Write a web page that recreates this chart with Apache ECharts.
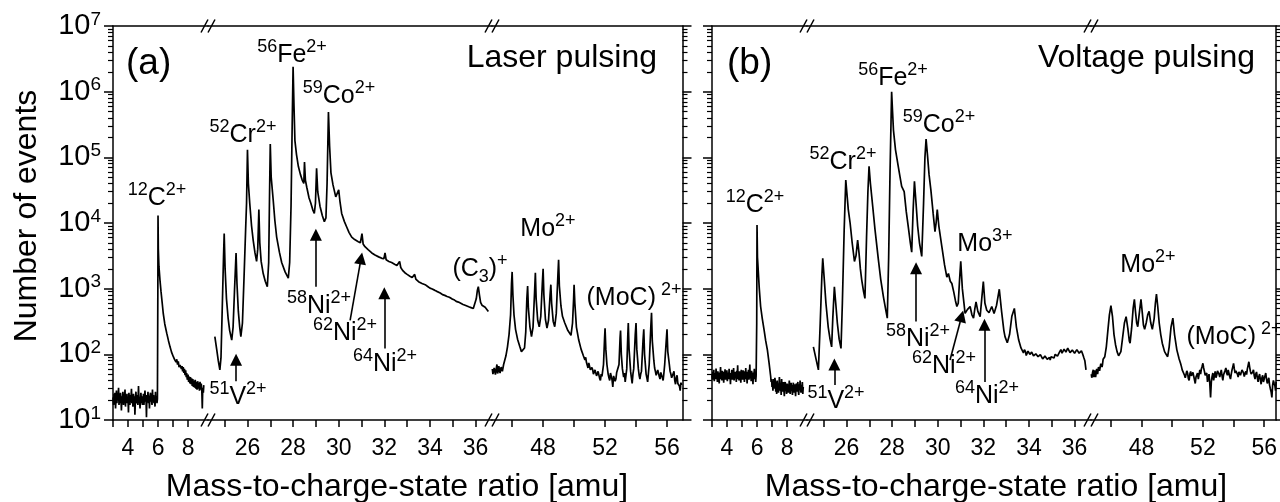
<!DOCTYPE html>
<html>
<head>
<meta charset="utf-8">
<script src="https://cdn.jsdelivr.net/npm/echarts@6/dist/echarts.min.js"></script>
<style>
  html, body { margin: 0; padding: 0; background: #fff; }
  #chart { width: 1280px; height: 502px; }
</style>
</head>
<body>
<div id="chart"></div>
<script>
// ---- data (x = m/z in amu, y = counts) ----
var laserLow = [[3.0,22],[3.04,17],[3.07,25],[3.1,19],[3.13,26],[3.17,15],[3.2,21],[3.23,28],[3.26,18],[3.3,24],[3.33,20],[3.37,31],[3.4,17],[3.43,23],[3.46,18],[3.5,26],[3.53,21],[3.56,14],[3.6,23],[3.63,19],[3.66,27],[3.7,17],[3.73,22],[3.76,20],[3.8,29],[3.83,16],[3.86,23],[3.9,19],[3.93,25],[3.96,18],[4.0,21],[4.03,13],[4.06,26],[4.1,20],[4.13,17],[4.16,24],[4.2,22],[4.23,30],[4.26,18],[4.3,21],[4.33,16],[4.36,25],[4.4,19],[4.43,23],[4.46,12],[4.5,22],[4.53,27],[4.56,18],[4.6,20],[4.63,24],[4.66,17],[4.7,33],[4.73,19],[4.76,22],[4.8,15],[4.83,21],[4.86,26],[4.9,18],[4.93,23],[4.96,17],[5.0,20],[5.03,25],[5.06,17],[5.1,22],[5.13,28],[5.17,19],[5.2,21],[5.23,11],[5.26,24],[5.3,20],[5.33,27],[5.37,18],[5.4,22],[5.43,15],[5.46,23],[5.5,26],[5.53,19],[5.56,21],[5.6,17],[5.63,29],[5.66,20],[5.7,24],[5.73,18],[5.76,22],[5.8,16],[5.83,27],[5.86,19],[5.9,23],[5.93,18],[5.96,21],
  [5.99,1200],[6.0,13000],[6.02,4000],[6.06,2200],[6.13,1350],[6.2,900],[6.28,600],[6.35,415],[6.45,290],[6.58,210],[6.7,160],[6.8,130],[6.9,108],[7.02,92],[7.1,84],[7.15,90],[7.2,76],[7.25,84],[7.3,70],[7.35,78],[7.4,64],[7.47,69],[7.52,74],[7.56,60],[7.6,66],[7.64,55],[7.68,64],[7.72,52],[7.76,60],[7.8,48],[7.84,57],[7.88,45],[7.91,52],[7.95,41],[8.0,49],[8.04,38],[8.08,46],[8.12,36],[8.16,45],[8.2,35],[8.24,43],[8.28,33],[8.32,42],[8.36,32],[8.4,40],[8.44,31],[8.48,41],[8.52,30],[8.56,38],[8.6,29],[8.64,39],[8.68,30],[8.72,37],[8.76,28],[8.8,38],[8.84,29],[8.88,36],[8.92,27],[8.95,15],[8.98,31],[9.02,26],[9.05,34]];

var laserMid = [[24.57,186],[24.65,120],[24.72,80],[24.79,58],[24.84,90],[24.9,600],[24.95,3000],[24.98,6900],[25.02,2000],[25.08,700],[25.15,360],[25.22,230],[25.31,165],[25.37,260],[25.43,900],[25.5,3500],[25.54,1200],[25.6,450],[25.66,260],[25.71,186],[25.78,300],[25.85,1500],[25.92,8000],[25.96,20000],[26.0,130000],[26.04,40000],[26.1,20000],[26.18,9000],[26.25,5500],[26.33,3500],[26.4,2600],[26.45,4000],[26.5,16000],[26.54,5000],[26.6,2600],[26.69,1700],[26.78,1300],[26.87,1070],[26.93,2500],[26.97,30000],[27.0,160000],[27.04,50000],[27.13,22000],[27.2,11000],[27.28,6100],[27.4,3600],[27.5,2500],[27.65,1800],[27.79,1450],[27.85,2500],[27.91,18000],[27.96,300000],[28.0,2400000],[28.04,600000],[28.08,180000],[28.15,110000],[28.23,73000],[28.32,55000],[28.4,45000],[28.47,40000],[28.5,85000],[28.54,45000],[28.6,35000],[28.7,24000],[28.78,20000],[28.86,16000],[28.93,14000],[28.98,20000],[29.03,68000],[29.08,30000],[29.18,18000],[29.28,13000],[29.37,10500],[29.44,12000],[29.49,40000],[29.55,490000],[29.6,150000],[29.66,58000],[29.75,38000],[29.87,25000],[29.95,24000],[30.0,32000],[30.05,22000],[30.13,14000],[30.25,10500],[30.35,8700],[30.45,7200],[30.57,6100],[30.7,5600],[30.86,5200],[30.95,5000],[31.02,6900],[31.07,4800],[31.15,4350],[31.3,3900],[31.45,3500],[31.59,3250],[31.75,3050],[31.89,2900],[31.98,2850],[32.03,3500],[32.08,2750],[32.2,2600],[32.32,2500],[32.45,2350],[32.55,2250],[32.62,2300],[32.67,2600],[32.72,2100],[32.8,1900],[32.9,1750],[33.0,1650],[33.12,1550],[33.22,1480],[33.29,1500],[33.33,1650],[33.38,1400],[33.5,1280],[33.65,1200],[33.79,1150],[33.9,1080],[34.0,1020],[34.1,990],[34.2,950],[34.3,910],[34.37,890],[34.45,860],[34.55,810],[34.65,790],[34.75,760],[34.85,740],[34.96,700],[35.05,680],[35.15,640],[35.25,625],[35.35,600],[35.45,575],[35.54,560],[35.62,545],[35.7,530],[35.8,515],[35.9,500],[35.97,520],[36.03,700],[36.08,950],[36.12,1070],[36.17,800],[36.22,620],[36.28,560],[36.35,540],[36.42,520],[36.49,500],[36.56,450]];

var laserHigh = [[44.72,60],[44.76,50],[44.8,48],[44.84,62],[44.88,66],[44.92,49],[44.95,52],[44.99,64],[45.02,70],[45.06,51],[45.1,55],[45.14,66],[45.18,62],[45.22,52],[45.25,50],[45.29,64],[45.33,68],[45.37,55],[45.4,58],[45.45,70],[45.5,75],[45.6,95],[45.7,130],[45.8,200],[45.9,400],[45.96,1200],[46.0,1800],[46.05,800],[46.12,400],[46.22,240],[46.35,170],[46.5,130],[46.6,110],[46.7,105],[46.8,125],[46.88,220],[46.95,700],[47.0,1100],[47.05,500],[47.15,260],[47.25,186],[47.35,260],[47.45,900],[47.5,1750],[47.55,700],[47.65,330],[47.75,263],[47.85,380],[47.95,1200],[48.0,2000],[48.05,800],[48.15,340],[48.25,250],[48.35,330],[48.45,800],[48.5,1150],[48.55,600],[48.65,320],[48.75,263],[48.85,420],[48.95,1500],[49.0,2750],[49.05,1100],[49.15,550],[49.25,380],[49.4,300],[49.6,230],[49.8,195],[49.9,300],[49.97,700],[50.0,1150],[50.05,600],[50.15,260],[50.3,165],[50.45,120],[50.6,95],[50.7,82],[50.75,90],[50.8,75],[50.85,68],[50.9,62],[50.95,74],[51.0,70],[51.05,58],[51.1,55],[51.15,63],[51.2,58],[51.25,50],[51.3,48],[51.35,58],[51.4,60],[51.45,47],[51.5,45],[51.55,55],[51.6,52],[51.65,43],[51.7,40],[51.75,50],[51.8,46],[51.9,70],[51.97,180],[52.0,250],[52.05,120],[52.12,70],[52.2,50],[52.25,44],[52.3,40],[52.35,52],[52.4,55],[52.45,41],[52.5,32],[52.55,47],[52.6,50],[52.65,39],[52.7,42],[52.75,53],[52.8,55],[52.9,70],[52.97,180],[53.0,230],[53.05,100],[53.12,60],[53.2,45],[53.25,52],[53.3,38],[53.4,60],[53.47,200],[53.5,300],[53.55,120],[53.65,55],[53.7,44],[53.75,36],[53.8,50],[53.85,60],[53.95,200],[54.0,300],[54.05,120],[54.15,60],[54.2,48],[54.25,42],[54.3,50],[54.35,55],[54.45,160],[54.5,240],[54.55,100],[54.65,50],[54.7,44],[54.75,38],[54.8,52],[54.85,70],[54.95,250],[55.0,430],[55.05,160],[55.15,80],[55.2,62],[55.25,55],[55.3,48],[55.35,45],[55.4,58],[55.45,60],[55.5,46],[55.55,42],[55.6,53],[55.65,55],[55.7,44],[55.75,40],[55.8,52],[55.85,70],[55.95,160],[56.0,240],[56.05,110],[56.15,70],[56.2,55],[56.25,50],[56.3,44],[56.35,42],[56.4,51],[56.45,55],[56.5,40],[56.55,35],[56.6,44],[56.65,48],[56.7,36],[56.75,38],[56.8,33],[56.85,28],[56.9,37],[56.95,34]];

var voltLow = [[3.0,48],[3.03,41],[3.06,54],[3.09,44],[3.12,58],[3.15,39],[3.18,46],[3.21,52],[3.24,42],[3.27,61],[3.3,45],[3.33,50],[3.36,38],[3.39,55],[3.42,44],[3.45,49],[3.48,36],[3.51,53],[3.54,46],[3.57,64],[3.6,42],[3.63,48],[3.66,40],[3.69,56],[3.72,45],[3.75,51],[3.78,37],[3.81,54],[3.84,47],[3.87,59],[3.9,41],[3.93,50],[3.96,43],[3.99,57],[4.02,39],[4.05,48],[4.08,53],[4.11,42],[4.14,60],[4.17,44],[4.2,50],[4.23,35],[4.26,52],[4.29,46],[4.32,58],[4.35,41],[4.38,49],[4.41,44],[4.44,62],[4.47,40],[4.5,47],[4.53,54],[4.56,43],[4.59,51],[4.62,38],[4.65,56],[4.68,45],[4.71,68],[4.74,42],[4.77,49],[4.8,40],[4.83,55],[4.86,46],[4.89,52],[4.92,37],[4.95,58],[4.98,44],[5.01,50],[5.04,41],[5.07,57],[5.1,43],[5.13,49],[5.16,38],[5.19,55],[5.22,46],[5.25,62],[5.28,42],[5.31,50],[5.34,36],[5.37,54],[5.4,45],[5.43,58],[5.46,41],[5.49,48],[5.52,70],[5.55,43],[5.58,51],[5.61,39],[5.64,56],[5.67,44],[5.7,49],[5.73,35],[5.76,53],[5.79,46],[5.82,60],[5.85,42],[5.88,50],[5.91,38],[5.94,47],
  [5.98,300],[6.0,9300],[6.03,3000],[6.08,1900],[6.15,1000],[6.24,535],[6.35,350],[6.47,235],[6.58,160],[6.69,117],[6.8,75],[6.91,46],[6.94,38],[6.97,42],[7.0,32],[7.03,36],[7.06,28],[7.1,42],[7.13,33],[7.16,30],[7.19,44],[7.22,38],[7.25,27],[7.28,34],[7.31,25],[7.34,40],[7.37,31],[7.4,36],[7.43,26],[7.46,33],[7.49,45],[7.52,36],[7.55,28],[7.58,33],[7.61,24],[7.64,42],[7.67,30],[7.7,35],[7.73,27],[7.76,38],[7.79,29],[7.82,23],[7.85,34],[7.88,38],[7.91,28],[7.94,31],[7.97,25],[8.0,36],[8.03,29],[8.06,35],[8.09,26],[8.12,31],[8.15,40],[8.18,33],[8.21,25],[8.24,30],[8.27,37],[8.3,28],[8.33,34],[8.36,24],[8.39,31],[8.42,37],[8.45,29],[8.48,26],[8.51,35],[8.54,30],[8.57,23],[8.6,33],[8.63,36],[8.66,27],[8.69,31],[8.72,38],[8.75,28],[8.78,24],[8.81,35],[8.84,29],[8.87,40],[8.9,30],[8.93,26],[8.96,34],[8.99,28],[9.02,38],[9.05,25],[9.08,32]];

var voltMid = [[24.55,130],[24.65,90],[24.77,58],[24.85,300],[24.92,1500],[24.96,2900],[25.02,1500],[25.1,600],[25.2,260],[25.28,170],[25.35,130],[25.4,350],[25.47,1070],[25.53,600],[25.6,300],[25.68,170],[25.76,123],[25.82,600],[25.9,8000],[25.97,45000],[26.02,28000],[26.08,16000],[26.16,10000],[26.25,5000],[26.35,2600],[26.42,3200],[26.49,5500],[26.55,3500],[26.61,2000],[26.67,1350],[26.75,900],[26.81,710],[26.88,6000],[26.94,30000],[26.99,73000],[27.05,40000],[27.15,18000],[27.25,8000],[27.4,2750],[27.5,1400],[27.62,750],[27.72,480],[27.79,355],[27.85,3000],[27.91,60000],[27.96,450000],[27.98,1000000],[28.02,500000],[28.06,260000],[28.15,130000],[28.27,73000],[28.35,50000],[28.42,36000],[28.48,38000],[28.53,30000],[28.62,15000],[28.71,8700],[28.8,5000],[28.86,3600],[28.92,15000],[28.98,43000],[29.05,20000],[29.12,9000],[29.2,5000],[29.3,3100],[29.38,20000],[29.44,100000],[29.49,190000],[29.55,110000],[29.62,55000],[29.7,32000],[29.8,14000],[29.88,7400],[29.93,10000],[29.98,16000],[30.05,9000],[30.18,4400],[30.3,2300],[30.4,1500],[30.47,1700],[30.55,1300],[30.62,1200],[30.7,900],[30.78,650],[30.84,535],[30.9,600],[30.96,1400],[31.01,2600],[31.08,1000],[31.2,420],[31.3,480],[31.42,535],[31.5,400],[31.57,355],[31.63,500],[31.68,630],[31.76,450],[31.86,375],[31.93,700],[32.0,1280],[32.07,600],[32.15,470],[32.25,430],[32.37,535],[32.47,420],[32.58,560],[32.7,980],[32.8,450],[32.9,230],[32.95,186],[33.05,150],[33.15,200],[33.25,380],[33.36,500],[33.45,260],[33.55,165],[33.65,125],[33.76,105],[33.8,118],[33.85,110],[33.88,96],[33.92,98],[33.96,112],[34.0,118],[34.04,100],[34.08,96],[34.12,108],[34.15,112],[34.2,95],[34.25,90],[34.3,102],[34.35,105],[34.4,92],[34.45,88],[34.5,99],[34.55,95],[34.6,85],[34.65,82],[34.7,94],[34.75,92],[34.8,84],[34.85,80],[34.9,90],[34.93,82],[34.97,92],[35.0,95],[35.05,86],[35.1,88],[35.15,100],[35.2,105],[35.25,94],[35.3,98],[35.35,110],[35.4,118],[35.45,104],[35.5,108],[35.54,120],[35.58,125],[35.62,108],[35.66,112],[35.7,124],[35.75,120],[35.8,106],[35.85,105],[35.9,116],[35.95,118],[36.0,104],[36.05,108],[36.1,118],[36.15,115],[36.2,104],[36.25,100],[36.3,113],[36.35,102],[36.4,90],[36.45,80],[36.5,58]];

var voltHigh = [[44.72,50],[44.75,44],[44.78,42],[44.81,54],[44.85,58],[44.88,45],[44.9,46],[44.94,57],[44.97,55],[45.0,45],[45.03,48],[45.07,60],[45.1,62],[45.13,50],[45.16,52],[45.19,64],[45.22,66],[45.26,56],[45.3,60],[45.34,72],[45.38,75],[45.42,64],[45.45,70],[45.49,84],[45.52,88],[45.56,80],[45.6,92],[45.7,130],[45.8,230],[45.9,400],[46.0,550],[46.1,380],[46.2,200],[46.3,140],[46.4,110],[46.5,95],[46.56,92],[46.65,110],[46.75,170],[46.88,300],[46.99,375],[47.1,250],[47.2,160],[47.25,148],[47.35,250],[47.45,500],[47.53,690],[47.6,450],[47.68,300],[47.75,263],[47.85,420],[47.96,690],[48.05,420],[48.12,280],[48.2,240],[48.3,300],[48.4,400],[48.49,450],[48.6,300],[48.7,240],[48.75,225],[48.82,350],[48.9,600],[48.97,830],[49.05,550],[49.15,300],[49.25,200],[49.35,148],[49.5,110],[49.6,100],[49.7,92],[49.8,130],[49.92,260],[50.04,355],[50.15,200],[50.3,117],[50.45,85],[50.55,72],[50.6,65],[50.65,58],[50.7,55],[50.75,62],[50.8,48],[50.85,44],[50.9,46],[50.95,56],[51.0,52],[51.05,43],[51.1,40],[51.15,50],[51.2,55],[51.25,47],[51.3,44],[51.35,53],[51.4,50],[51.45,41],[51.5,36],[51.55,45],[51.6,48],[51.65,52],[51.7,42],[51.75,49],[51.8,58],[51.85,50],[51.9,60],[51.95,66],[52.0,73],[52.05,62],[52.1,55],[52.15,48],[52.2,45],[52.25,52],[52.3,38],[52.35,44],[52.4,50],[52.45,36],[52.5,22],[52.55,38],[52.6,46],[52.65,52],[52.7,40],[52.75,47],[52.8,55],[52.85,44],[52.9,48],[52.95,56],[53.0,60],[53.05,50],[53.1,45],[53.15,52],[53.2,58],[53.25,47],[53.3,40],[53.35,49],[53.4,52],[53.45,57],[53.5,62],[53.55,52],[53.6,48],[53.65,58],[53.7,55],[53.75,46],[53.8,42],[53.85,50],[53.9,58],[53.95,64],[54.0,73],[54.05,60],[54.1,52],[54.15,56],[54.2,60],[54.25,50],[54.3,45],[54.35,54],[54.4,57],[54.45,48],[54.5,50],[54.55,58],[54.6,62],[54.65,52],[54.7,46],[54.75,51],[54.8,55],[54.85,49],[54.9,60],[54.95,68],[55.0,77],[55.05,64],[55.1,55],[55.15,50],[55.2,48],[55.25,54],[55.3,58],[55.35,47],[55.4,42],[55.45,50],[55.5,54],[55.55,44],[55.6,38],[55.65,46],[55.7,50],[55.75,41],[55.8,35],[55.85,44],[55.9,48],[55.95,38],[56.0,40],[56.05,47],[56.1,52],[56.15,42],[56.2,36],[56.25,40],[56.3,44],[56.35,34],[56.4,30],[56.45,27],[56.5,22],[56.55,34],[56.6,40],[56.65,36],[56.7,33],[56.74,28],[56.78,38]];

// arrows: [xFrom, yFrom, xTo, yTo] in data units (middle segment)
var arrowsLaser = [[25.5,39,25.5,83],[29,1070,29,6600],[30.5,330,30.98,2900],[32,123,32,850]];
var arrowsVolt = [[25.47,34,25.47,70],[29.05,315,29.05,2040],[30.54,82,31.05,380],[32.05,38,32.05,282]];

// tick values
var yMajor = [10, 100, 1000, 10000, 100000, 1000000, 10000000];
var yMinorFactors = [2, 3, 4, 5, 6, 7, 8, 9];
var xTicksLow = [3, 4, 5, 6, 7, 8];
var xLabelsLow = [4, 6, 8];
var xTicksMid = [25, 26, 27, 28, 29, 30, 31, 32, 33, 34, 35, 36];
var xLabelsMid = [26, 28, 30, 32, 34, 36];
var xTicksHigh = [46, 48, 50, 52, 54, 56];
var xLabelsHigh = [48, 52, 56];

var yMinor = [];
yMajor.slice(0, -1).forEach(function (d) {
  yMinorFactors.forEach(function (f) { yMinor.push(d * f); });
});

var FONT = '"Liberation Sans", Arial, sans-serif';
var TOP = 26, H = 394;
var axisLineStyle = { color: '#000', width: 1.5 };

var panels = [
  { data: [laserLow, laserMid, laserHigh], arrows: arrowsLaser, yLabels: true,
    segs: [[113, 95, 3, 9.33], [208, 284, 24.27, 36.72], [492, 190.5, 44.7, 57]] },
  { data: [voltLow, voltMid, voltHigh], arrows: arrowsVolt, yLabels: false,
    segs: [[712, 95, 3, 9.33], [807, 284, 24.27, 36.72], [1091, 187, 44.7, 56.77]] }
];
var xTicks = [xTicksLow, xTicksMid, xTicksHigh];
var xLabels = [xLabelsLow, xLabelsMid, xLabelsHigh];

var grid = [], xAxis = [], yAxis = [], series = [];

panels.forEach(function (p) {
  p.segs.forEach(function (s, si) {
    var g = grid.length;
    grid.push({ left: s[0], width: s[1], top: TOP, height: H });
    xAxis.push({
      gridIndex: g, type: 'value', min: s[2], max: s[3], position: 'bottom',
      axisLine: { lineStyle: axisLineStyle },
      axisTick: { customValues: xTicks[si], length: 7, lineStyle: axisLineStyle },
      axisLabel: { customValues: xLabels[si], fontSize: 23, color: '#000', margin: 17, fontFamily: FONT },
      splitLine: { show: false }
    });
    xAxis.push({
      gridIndex: g, type: 'value', min: s[2], max: s[3], position: 'top',
      axisLine: { lineStyle: axisLineStyle },
      axisTick: { show: false }, axisLabel: { show: false }, splitLine: { show: false }
    });
    var side = si === 0 ? 'left' : (si === 2 ? 'right' : null);
    var yi = yAxis.length;
    yAxis.push({
      gridIndex: g, type: 'log', logBase: 10, min: 10, max: 10000000,
      show: side !== null, position: side || 'left',
      axisLine: { show: true, lineStyle: axisLineStyle },
      axisTick: { customValues: yMajor, length: 9, lineStyle: axisLineStyle },
      axisLabel: {
        show: p.yLabels && si === 0, customValues: yMajor, margin: 12,
        formatter: function (v) { return '{b|10}{s|' + Math.round(Math.log10(v)) + '}'; },
        rich: {
          b: { fontSize: 29, lineHeight: 32, color: '#000', fontFamily: FONT },
          s: { fontSize: 19, lineHeight: 19, verticalAlign: 'top', color: '#000', fontFamily: FONT }
        }
      },
      splitLine: { show: false }
    });
    if (side) {
      yAxis.push({
        gridIndex: g, type: 'log', logBase: 10, min: 10, max: 10000000, position: side,
        axisLine: { show: false },
        axisTick: { customValues: yMinor, length: 5, lineStyle: { color: '#000', width: 1.2 } },
        axisLabel: { show: false }, splitLine: { show: false }
      });
    }
    var ser = {
      type: 'line', xAxisIndex: 2 * g, yAxisIndex: yi, data: p.data[si],
      symbol: 'none', silent: true,
      lineStyle: { color: '#000', width: 1.7 }
    };
    if (si === 1) {
      ser.markLine = {
        silent: true, symbol: ['none', 'triangle'], symbolSize: 12,
        label: { show: false },
        lineStyle: { color: '#000', width: 1.6, type: 'solid' },
        data: p.arrows.map(function (a) { return [{ coord: [a[0], a[1]] }, { coord: [a[2], a[3]] }]; })
      };
    }
    series.push(ser);
  });
});

// text annotations (pixel placement), rich text for isotopes / charge states
var rich = {
  b: { fontSize: 25, lineHeight: 34, fill: '#000', fontFamily: FONT },
  s: { fontSize: 18, lineHeight: 18, verticalAlign: 'top', fill: '#000', fontFamily: FONT },
  u: { fontSize: 18, lineHeight: 20, verticalAlign: 'bottom', fill: '#000', fontFamily: FONT }
};
var notes = [
  [292, 55, '{s|56}{b|Fe}{s|2+}'], [339, 96, '{s|59}{b|Co}{s|2+}'], [243, 135, '{s|52}{b|Cr}{s|2+}'],
  [157, 198, '{s|12}{b|C}{s|2+}'], [238, 397, '{s|51}{b|V}{s|2+}'], [319, 306, '{s|58}{b|Ni}{s|2+}'],
  [345, 333, '{s|62}{b|Ni}{s|2+}'], [385, 364, '{s|64}{b|Ni}{s|2+}'], [480, 269, '{b|(C}{u|3}{b|)}{s|+}'],
  [548, 229, '{b|Mo}{s|2+}'], [634, 298, '{b|(MoC)\u2009}{s|2+}'],
  [893, 78, '{s|56}{b|Fe}{s|2+}'], [939, 125, '{s|59}{b|Co}{s|2+}'], [843, 162, '{s|52}{b|Cr}{s|2+}'],
  [755, 205, '{s|12}{b|C}{s|2+}'], [836, 401, '{s|51}{b|V}{s|2+}'], [918, 339, '{s|58}{b|Ni}{s|2+}'],
  [944, 366, '{s|62}{b|Ni}{s|2+}'], [987, 396, '{s|64}{b|Ni}{s|2+}'], [985, 244, '{b|Mo}{s|3+}'],
  [1148, 265, '{b|Mo}{s|2+}'], [1234, 337, '{b|(MoC)\u2009}{s|2+}']
];

var graphic = notes.map(function (n) {
  return { type: 'text', x: n[0], y: n[1], silent: true,
    style: { text: n[2], rich: rich, align: 'center', verticalAlign: 'middle' } };
});

var bigFont = '32px ' + FONT;
var tagFont = '37px ' + FONT;
graphic.push(
  { type: 'text', x: 126, y: 64, style: { text: '(a)', font: tagFont, fill: '#000', align: 'left', verticalAlign: 'middle' } },
  { type: 'text', x: 657, y: 58, style: { text: 'Laser pulsing', font: bigFont, fill: '#000', align: 'right', verticalAlign: 'middle' } },
  { type: 'text', x: 727, y: 64, style: { text: '(b)', font: tagFont, fill: '#000', align: 'left', verticalAlign: 'middle' } },
  { type: 'text', x: 1255, y: 58, style: { text: 'Voltage pulsing', font: bigFont, fill: '#000', align: 'right', verticalAlign: 'middle' } },
  { type: 'text', x: 397, y: 487, style: { text: 'Mass-to-charge-state ratio [amu]', font: bigFont, fill: '#000', align: 'center', verticalAlign: 'middle' } },
  { type: 'text', x: 996, y: 487, style: { text: 'Mass-to-charge-state ratio [amu]', font: bigFont, fill: '#000', align: 'center', verticalAlign: 'middle' } },
  { type: 'text', x: 27, y: 216, rotation: Math.PI / 2, style: { text: 'Number of events', font: bigFont, fill: '#000', align: 'center', verticalAlign: 'middle' } }
);

// axis-break marks "//" at the segment joins, top and bottom
[208, 492, 807, 1091].forEach(function (bx) {
  [TOP, TOP + H].forEach(function (by) {
    [-3.5, 3.5].forEach(function (d) {
      graphic.push({ type: 'line', silent: true,
        shape: { x1: bx + d - 3.5, y1: by + 6.5, x2: bx + d + 3.5, y2: by - 6.5 },
        style: { stroke: '#000', lineWidth: 1.5 } });
    });
  });
});

var chart = echarts.init(document.getElementById('chart'));
chart.setOption({
  animation: false,
  backgroundColor: '#fff',
  textStyle: { fontFamily: FONT, color: '#000' },
  grid: grid, xAxis: xAxis, yAxis: yAxis, series: series,
  graphic: graphic
});
</script>
</body>
</html>
